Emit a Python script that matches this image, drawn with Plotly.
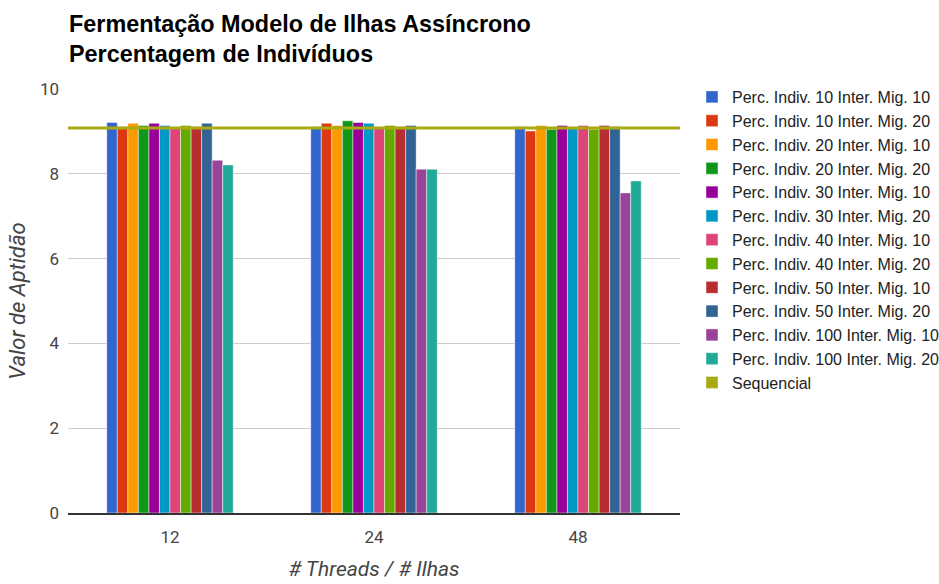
import plotly.graph_objects as go

# Número de threads / ilhas
categorias = ["12", "24", "48"]

series_nomes = [
    "Perc. Indiv. 10 Inter. Mig. 10",
    "Perc. Indiv. 10 Inter. Mig. 20",
    "Perc. Indiv. 20 Inter. Mig. 10",
    "Perc. Indiv. 20 Inter. Mig. 20",
    "Perc. Indiv. 30 Inter. Mig. 10",
    "Perc. Indiv. 30 Inter. Mig. 20",
    "Perc. Indiv. 40 Inter. Mig. 10",
    "Perc. Indiv. 40 Inter. Mig. 20",
    "Perc. Indiv. 50 Inter. Mig. 10",
    "Perc. Indiv. 50 Inter. Mig. 20",
    "Perc. Indiv. 100 Inter. Mig. 10",
    "Perc. Indiv. 100 Inter. Mig. 20",
]

# Valor de aptidão por configuração, para 12, 24 e 48 threads
valores = [
    [9.21, 9.11, 9.11],
    [9.11, 9.19, 9.01],
    [9.19, 9.14, 9.14],
    [9.14, 9.25, 9.05],
    [9.19, 9.21, 9.14],
    [9.14, 9.19, 9.09],
    [9.08, 9.08, 9.14],
    [9.14, 9.14, 9.05],
    [9.11, 9.11, 9.14],
    [9.19, 9.14, 9.11],
    [8.32, 8.11, 7.55],
    [8.21, 8.11, 7.83],
]

sequencial_nome = "Sequencial"
sequencial_valor = 9.08

cores = [
    "#3366cc", "#dc3912", "#ff9900", "#109618", "#990099", "#0099c6",
    "#dd4477", "#66aa00", "#b82e2e", "#316395", "#994499", "#22aa99",
]
cor_sequencial = "#aaaa11"

fig = go.Figure()

for nome, vals, cor in zip(series_nomes, valores, cores):
    fig.add_trace(go.Bar(
        x=categorias, y=vals, name=nome,
        marker=dict(color=cor, line=dict(color="rgba(255,255,255,0.45)", width=1)),
    ))

# Linha de referência da versão sequencial, cobrindo toda a largura do gráfico
fig.add_trace(go.Scatter(
    x=[0, 1], y=[sequencial_valor, sequencial_valor], xaxis="x2",
    mode="lines", line=dict(color=cor_sequencial, width=3),
    name=sequencial_nome, showlegend=False, hoverinfo="skip",
))
# Entrada de legenda (quadrado) para a série sequencial
fig.add_trace(go.Bar(
    x=[0.5], y=[None], xaxis="x2", name=sequencial_nome,
    marker=dict(color=cor_sequencial), showlegend=True,
))

fig.update_layout(
    width=939, height=584,
    paper_bgcolor="white", plot_bgcolor="white",
    margin=dict(l=68, r=259, t=89, b=71, autoexpand=False),
    barmode="group", bargap=0.38, bargroupgap=0.0,
    title=dict(
        text="<b>Fermentação Modelo de Ilhas Assíncrono<br>Percentagem de Indivíduos</b>",
        x=69 / 939, xanchor="left", xref="container",
        y=1 - 32 / 584, yanchor="top", yref="container",
        font=dict(family="Liberation Sans, Arial", size=23.4, color="#000000"),
    ),
    xaxis=dict(
        showgrid=False, showline=True, linecolor="#333333", linewidth=2,
        ticks="", ticklabelstandoff=8, automargin=False,
        tickfont=dict(family="Roboto", size=17, color="#444444"),
        title=dict(text="<i># Threads / # Ilhas</i>",
                   font=dict(family="Roboto", size=21, color="#444444")),
    ),
    xaxis2=dict(overlaying="x", range=[0, 1], visible=False),
    yaxis=dict(
        range=[0, 10], dtick=2, showgrid=True, gridcolor="#cccccc", gridwidth=1,
        zeroline=False, ticks="", ticklabelstandoff=8, automargin=False,
        tickfont=dict(family="Roboto", size=17, color="#444444"),
        title=dict(text="<i>Valor de Aptidão</i>", standoff=8,
                   font=dict(family="Roboto", size=22, color="#444444")),
    ),
    legend=dict(
        x=692 / 939, xref="container", xanchor="left",
        y=1 - 80 / 584, yref="container", yanchor="top",
        font=dict(family="Liberation Sans, Arial", size=16, color="#222222"),
        tracegroupgap=0, itemwidth=30, maxheight=520,
    ),
    showlegend=True,
)

fig.write_html("out.html")
